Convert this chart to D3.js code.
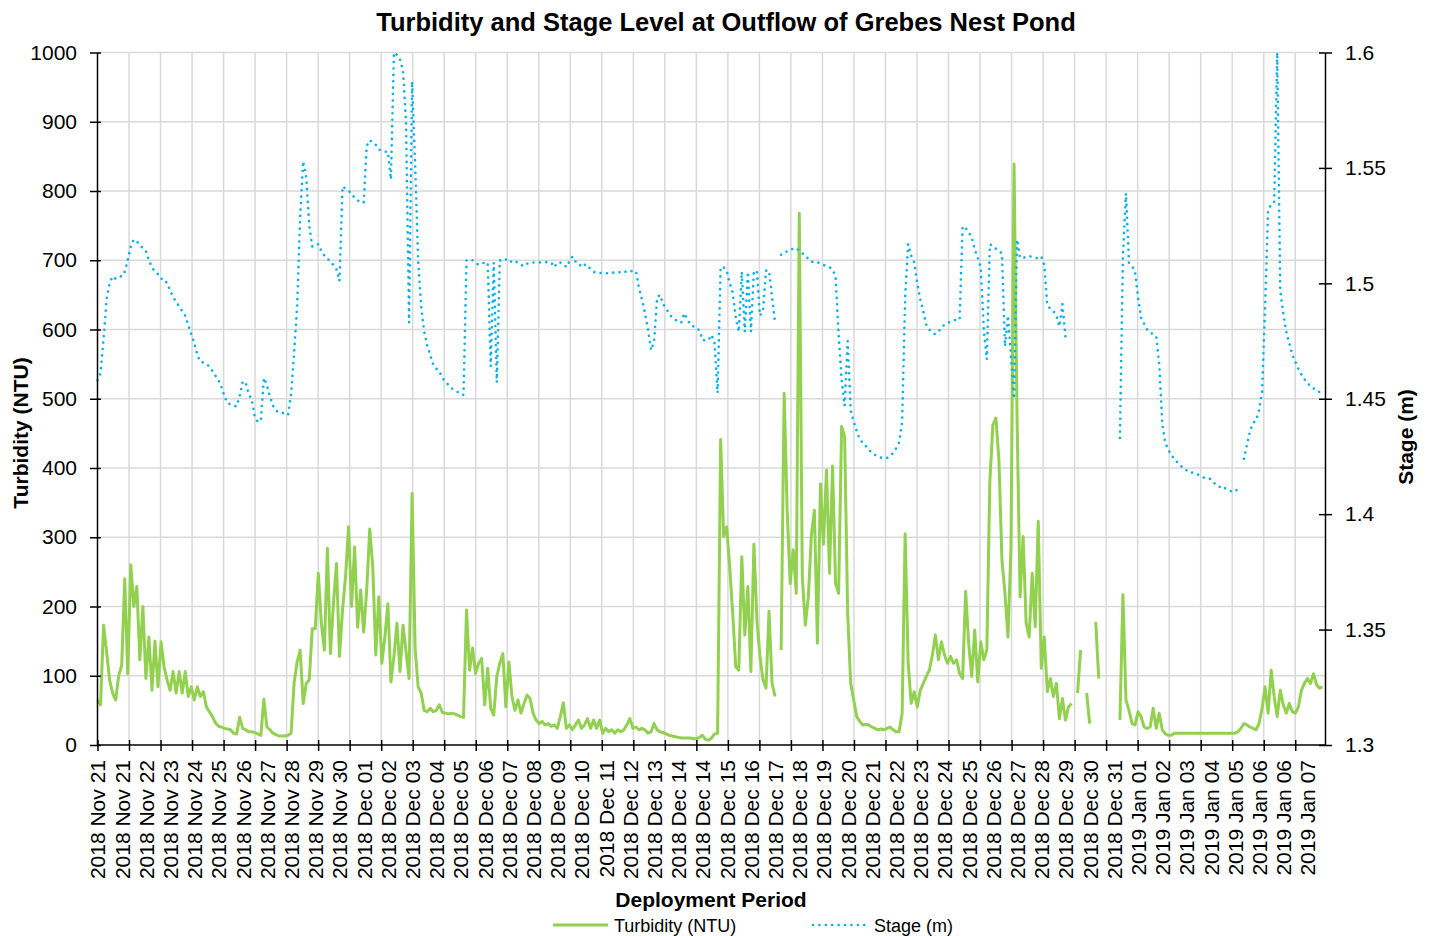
<!DOCTYPE html>
<html>
<head>
<meta charset="utf-8">
<script src="https://cdn.jsdelivr.net/npm/d3@7"></script>
<style>
  body { margin: 0; background: #fff; }
  svg { font-family: "Liberation Sans", Arial, sans-serif; }
</style>
</head>
<body>
<svg width="1429" height="936"></svg>

<script>
  // category labels along the bottom (Excel text axis, one label every 8 readings)
  const dateLabels = [
    "2018 Nov 21", "2018 Nov 21", "2018 Nov 22", "2018 Nov 23", "2018 Nov 24", "2018 Nov 25",
    "2018 Nov 26", "2018 Nov 27", "2018 Nov 28", "2018 Nov 29", "2018 Nov 30",
    "2018 Dec 01", "2018 Dec 02", "2018 Dec 03", "2018 Dec 04", "2018 Dec 05", "2018 Dec 06",
    "2018 Dec 07", "2018 Dec 08", "2018 Dec 09", "2018 Dec 10", "2018 Dec 11", "2018 Dec 12",
    "2018 Dec 13", "2018 Dec 14", "2018 Dec 14", "2018 Dec 15", "2018 Dec 16", "2018 Dec 17",
    "2018 Dec 18", "2018 Dec 19", "2018 Dec 20", "2018 Dec 21", "2018 Dec 22", "2018 Dec 23",
    "2018 Dec 24", "2018 Dec 25", "2018 Dec 26", "2018 Dec 27", "2018 Dec 28", "2018 Dec 29",
    "2018 Dec 30", "2018 Dec 31", "2019 Jan 01", "2019 Jan 02", "2019 Jan 03", "2019 Jan 04",
    "2019 Jan 05", "2019 Jan 06", "2019 Jan 06", "2019 Jan 07"
  ];
  const labelEvery = 8;      // readings per label
  const tickEvery = 10.42;   // readings per tick mark / gridline
  const readingSpan = 405.8; // length of the category axis, in readings

  const turbTicks = [0, 100, 200, 300, 400, 500, 600, 700, 800, 900, 1000];
  const stageTicks = [1.3, 1.35, 1.4, 1.45, 1.5, 1.55, 1.6];

  // Turbidity (NTU), one value per reading, null = no data
  const turbidity = [
    65, 58, 173, 135, 94, 75, 65, 100, 115, 240, 103, 260, 200, 229, 123, 200, 96, 156, 79, 150,
    84, 149, 113, 94, 79, 106, 75, 106, 75, 106, 70, 84, 65, 84, 70, 77, 55, 48, 41, 32,
    27, 26, 24, 23, 22, 17, 16, 40, 24, 22, 19, 19, 18, 16, 14, 66, 26, 22, 17, 15,
    13, 13, 13, 14, 17, 90, 120, 137, 60, 89, 94, 168, 168, 248, 176, 137, 284, 132, 204, 262,
    128, 195, 243, 315, 200, 286, 170, 224, 163, 224, 312, 257, 130, 214, 118, 156, 204, 91, 128, 176,
    106, 173, 135, 96, 363, 140, 84, 75, 50, 48, 53, 48, 50, 58, 47, 46, 45, 46, 45, 43,
    41, 40, 195, 108, 140, 103, 118, 125, 58, 111, 53, 43, 99, 118, 132, 55, 120, 70, 50, 65,
    46, 60, 72, 67, 46, 36, 31, 34, 29, 31, 27, 29, 24, 41, 61, 24, 29, 22, 29, 36,
    24, 29, 38, 24, 36, 24, 36, 17, 24, 19, 22, 17, 22, 19, 22, 29, 38, 24, 26, 22,
    24, 22, 17, 19, 31, 22, 19, 18, 16, 14, 13, 12, 11, 10, 10, 10, 10, 9, 9, 11,
    14, 8, 7, 10, 16, 17, 441, 301, 315, 257, 190, 113, 108, 272, 159, 229, 106, 290, 180, 128,
    94, 82, 193, 89, 70, null, 137, 508, 339, 233, 282, 219, 768, 243, 173, 214, 303, 339, 147, 377,
    290, 397, 248, 403, 233, 219, 460, 445, 190, 89, 65, 41, 34, 29, 30, 29, 26, 24, 22, 23,
    22, 24, 26, 22, 19, 19, 46, 305, 118, 60, 77, 55, 79, 89, 99, 108, 130, 159, 123, 149,
    130, 118, 128, 118, 123, 103, 96, 222, 147, 99, 166, 91, 149, 123, 137, 380, 462, 472, 412, 267,
    219, 156, 287, 839, 470, 214, 301, 176, 156, 248, 171, 323, 111, 156, 77, 96, 70, 89, 38, 67,
    36, 55, 60, null, 75, 137, null, 75, 31, null, 178, 96, null, null, null, null, null, null, 36, 217,
    65, 50, 31, 29, 48, 41, 26, 24, 26, 53, 24, 46, 22, 16, 14, 14, 17, 17, 17, 17,
    17, 17, 17, 17, 17, 17, 17, 17, 17, 17, 17, 17, 17, 17, 17, 17, 17, 19, 24, 31,
    29, 26, 24, 22, 31, 53, 84, 46, 108, 70, 41, 79, 58, 46, 60, 48, 46, 55, 79, 89,
    96, 89, 103, 87, 82, 84
  ];

  // Stage (m), one value per reading, null = no data
  const stage = [
    1.458, 1.461, 1.476, 1.493, 1.500, 1.503, 1.502, 1.503, 1.503, 1.505, 1.510, 1.516, 1.519, 1.518, 1.517, 1.515, 1.514, 1.510, 1.507, 1.505,
    1.504, 1.502, 1.502, 1.500, 1.497, 1.494, 1.492, 1.490, 1.488, 1.486, 1.482, 1.478, 1.474, 1.469, 1.466, 1.4657, 1.465, 1.464, 1.462, 1.460,
    1.458, 1.455, 1.451, 1.448, 1.4476, 1.447, 1.4467, 1.451, 1.4575, 1.457, 1.452, 1.4496, 1.442, 1.440, 1.4405, 1.459, 1.456, 1.451, 1.447, 1.445,
    1.444, 1.444, 1.4435, 1.443, 1.452, 1.470, 1.490, 1.529, 1.553, 1.546, 1.525, 1.516, 1.516, 1.517, 1.514, 1.512, 1.511, 1.509, 1.508, 1.506,
    1.501, 1.542, 1.541, 1.540, 1.539, 1.537, 1.536, 1.535, 1.535, 1.5595, 1.562, 1.561, 1.560, 1.558, 1.5573, 1.557, 1.557, 1.545, 1.600, 1.599,
    1.597, 1.592, 1.570, 1.483, 1.5875, 1.552, 1.510, 1.490, 1.479, 1.473, 1.469, 1.4647, 1.463, 1.462, 1.459, 1.4575, 1.456, 1.4546, 1.4538, 1.453,
    1.452, 1.4517, 1.510, 1.5103, 1.510, 1.509, 1.508, 1.5085, 1.509, 1.509, 1.464, 1.509, 1.457, 1.510, 1.5095, 1.5103, 1.5106, 1.509, 1.5095, 1.509,
    1.508, 1.5074, 1.5085, 1.509, 1.509, 1.509, 1.509, 1.5092, 1.5093, 1.509, 1.509, 1.507, 1.509, 1.509, 1.5085, 1.507, 1.5095, 1.5116, 1.5095, 1.509,
    1.507, 1.508, 1.508, 1.506, 1.505, 1.5045, 1.5045, 1.5045, 1.5043, 1.5045, 1.5045, 1.5048, 1.505, 1.5047, 1.5045, 1.5055, 1.5053, 1.5053, 1.5053, 1.498,
    1.493, 1.487, 1.480, 1.471, 1.475, 1.494, 1.495, 1.491, 1.489, 1.487, 1.485, 1.4842, 1.4835, 1.483, 1.487, 1.4845, 1.482, 1.4813, 1.481, 1.4795,
    1.4755, 1.4752, 1.4755, 1.4777, 1.474, 1.4525, 1.507, 1.507, 1.5055, 1.500, 1.496, 1.485, 1.479, 1.505, 1.479, 1.505, 1.479, 1.5055, 1.505, 1.486,
    1.488, 1.5055, 1.5055, 1.494, 1.483, null, 1.5124, 1.5127, 1.514, 1.5146, 1.515, 1.5153, 1.514, 1.513, 1.5124, 1.5105, 1.5095, 1.509, 1.5092, 1.5085,
    1.508, 1.5075, 1.507, 1.506, 1.503, 1.478, 1.458, 1.447, 1.475, 1.445, 1.440, 1.436, 1.4322, 1.431, 1.4295, 1.428, 1.4265, 1.4257, 1.425, 1.4245,
    1.4243, 1.4243, 1.4255, 1.4264, 1.4285, 1.431, 1.440, 1.494, 1.517, 1.512, 1.509, 1.500, 1.493, 1.488, 1.482, 1.480, 1.4785, 1.478, 1.479, 1.481,
    1.482, 1.4828, 1.4834, 1.484, 1.4842, 1.4842, 1.5247, 1.524, 1.5222, 1.5197, 1.5148, 1.511, 1.507, 1.480, 1.467, 1.5168, 1.5165, 1.515, 1.514, 1.513,
    1.4727, 1.486, 1.468, 1.450, 1.519, 1.511, 1.511, 1.5115, 1.5118, 1.5115, 1.511, 1.511, 1.5117, 1.508, 1.4905, 1.489, 1.488, 1.486, 1.4813, 1.491,
    1.477, null, null, null, null, null, null, null, null, null, null, null, null, null, null, null, null, null, 1.433, 1.512,
    1.539, 1.509, 1.5075, 1.505, 1.494, 1.485, 1.4825, 1.480, 1.479, 1.4778, 1.477, 1.465, 1.439, 1.431, 1.428, 1.4255, 1.424, 1.4225, 1.421, 1.4202,
    1.419, 1.418, 1.418, 1.4177, 1.417, 1.4163, 1.4157, 1.4157, 1.4152, 1.4137, 1.4125, 1.4118, 1.4122, 1.411, 1.4104, 1.4098, 1.4098, 1.411, null, 1.424,
    1.430, 1.436, 1.4395, 1.4405, 1.445, 1.453, 1.490, 1.532, 1.534, 1.535, 1.600, 1.497, 1.487, 1.479, 1.474, 1.469, 1.466, 1.463, 1.4605, 1.4585,
    1.457, 1.4553, 1.4545, 1.454, 1.4528, 1.4515
  ];

  const turbColor = "#92d050";
  const stageColor = "#00b0f0";
  const gridColor = "#d9d9d9";

  const svg = d3.select("svg");
  const plotLeft = 97, plotRight = 1325, plotTop = 52.5, plotBottom = 745;

  const x = d3.scaleLinear().domain([0, readingSpan]).range([97.5, plotRight]);
  const yTurb = d3.scaleLinear().domain([0, 1000]).range([plotBottom, plotTop]);
  const yStage = d3.scaleLinear().domain([1.3, 1.6]).range([plotBottom, plotTop]);

  const gridAt = d3.range(0, Math.floor(readingSpan / tickEvery) + 1).map(n => n * tickEvery);
  const labelAt = dateLabels.map((d, i) => i * labelEvery);

  // gridlines
  svg.append("g").selectAll("line").data(turbTicks.slice(1)).join("line")
    .attr("x1", plotLeft).attr("x2", plotRight)
    .attr("y1", d => yTurb(d)).attr("y2", d => yTurb(d))
    .attr("stroke", gridColor).attr("stroke-width", 1.5);
  svg.append("g").selectAll("line").data(gridAt.slice(1)).join("line")
    .attr("x1", d => x(d)).attr("x2", d => x(d))
    .attr("y1", plotTop).attr("y2", plotBottom)
    .attr("stroke", gridColor).attr("stroke-width", 1.5);

  // series
  const turbLine = d3.line().defined(d => d != null)
    .x((d, i) => x(i)).y(d => yTurb(d));
  const stageLine = d3.line().defined(d => d != null)
    .x((d, i) => x(i)).y(d => yStage(d));

  svg.append("path").datum(turbidity)
    .attr("d", turbLine)
    .attr("fill", "none").attr("stroke", turbColor)
    .attr("stroke-width", 3).attr("stroke-linejoin", "round");

  svg.append("path").datum(stage)
    .attr("d", stageLine)
    .attr("fill", "none").attr("stroke", stageColor)
    .attr("stroke-width", 2.6).attr("stroke-linecap", "round")
    .attr("stroke-dasharray", "0.01 6.4");

  // axes
  function styleAxis(g) {
    g.attr("font-size", null).attr("font-family", null);
    g.select(".domain").attr("stroke", "#000").attr("stroke-width", 1.5);
    g.selectAll(".tick line").attr("stroke", "#000").attr("stroke-width", 1.5);
    g.selectAll(".tick text").attr("fill", "#000").style("font-size", "21px");
  }

  const yLeftAxis = svg.append("g").attr("transform", `translate(${plotLeft},0)`)
    .call(d3.axisLeft(yTurb).tickValues(turbTicks).tickFormat(d3.format("d")).tickSizeOuter(0))
    .call(styleAxis);
  yLeftAxis.selectAll(".tick line").attr("x1", 4).attr("x2", -7);
  yLeftAxis.selectAll(".tick text").attr("x", -20);

  const yRightAxis = svg.append("g").attr("transform", `translate(${plotRight},0)`)
    .call(d3.axisRight(yStage).tickValues(stageTicks).tickFormat(d3.format("")).tickSizeOuter(0))
    .call(styleAxis);
  yRightAxis.selectAll(".tick line").attr("x1", -6).attr("x2", 7);
  yRightAxis.selectAll(".tick text").attr("x", 20);

  const xTicks = svg.append("g").attr("transform", `translate(0,${plotBottom})`)
    .call(d3.axisBottom(x).tickValues(gridAt).tickFormat("").tickSizeOuter(0))
    .call(styleAxis);
  xTicks.select(".domain").attr("d", `M${plotLeft},0H${plotRight}`);
  xTicks.selectAll(".tick line").attr("y1", -5).attr("y2", 6);

  const xLabels = svg.append("g").attr("transform", `translate(0,${plotBottom})`)
    .call(d3.axisBottom(x).tickValues(labelAt).tickFormat((d, i) => dateLabels[i]).tickSize(0))
    .call(styleAxis);
  xLabels.select(".domain").remove();
  xLabels.selectAll(".tick text")
    .attr("transform", "rotate(-90)")
    .attr("text-anchor", "end")
    .attr("x", -15).attr("y", 0).attr("dy", "0.35em");

  // titles
  svg.append("text")
    .attr("x", 726).attr("y", 31)
    .attr("text-anchor", "middle")
    .style("font-size", "25.5px").style("font-weight", "bold")
    .text("Turbidity and Stage Level at Outflow of Grebes Nest Pond");

  svg.append("text")
    .attr("transform", "translate(28,433) rotate(-90)")
    .attr("text-anchor", "middle")
    .style("font-size", "21px").style("font-weight", "bold")
    .text("Turbidity (NTU)");

  svg.append("text")
    .attr("transform", "translate(1413,437) rotate(-90)")
    .attr("text-anchor", "middle")
    .style("font-size", "21px").style("font-weight", "bold")
    .text("Stage (m)");

  svg.append("text")
    .attr("x", 711).attr("y", 907)
    .attr("text-anchor", "middle")
    .style("font-size", "21px").style("font-weight", "bold")
    .text("Deployment Period");

  // legend
  const legend = svg.append("g");
  legend.append("line")
    .attr("x1", 553).attr("x2", 608).attr("y1", 925).attr("y2", 925)
    .attr("stroke", turbColor).attr("stroke-width", 3);
  legend.append("text").attr("x", 614).attr("y", 931.5)
    .style("font-size", "18px").text("Turbidity (NTU)");
  legend.append("line")
    .attr("x1", 813).attr("x2", 867).attr("y1", 925).attr("y2", 925)
    .attr("stroke", stageColor).attr("stroke-width", 2.6)
    .attr("stroke-linecap", "round").attr("stroke-dasharray", "0.01 6.4");
  legend.append("text").attr("x", 874).attr("y", 931.5)
    .style("font-size", "18px").text("Stage (m)");
</script>
</body>
</html>
